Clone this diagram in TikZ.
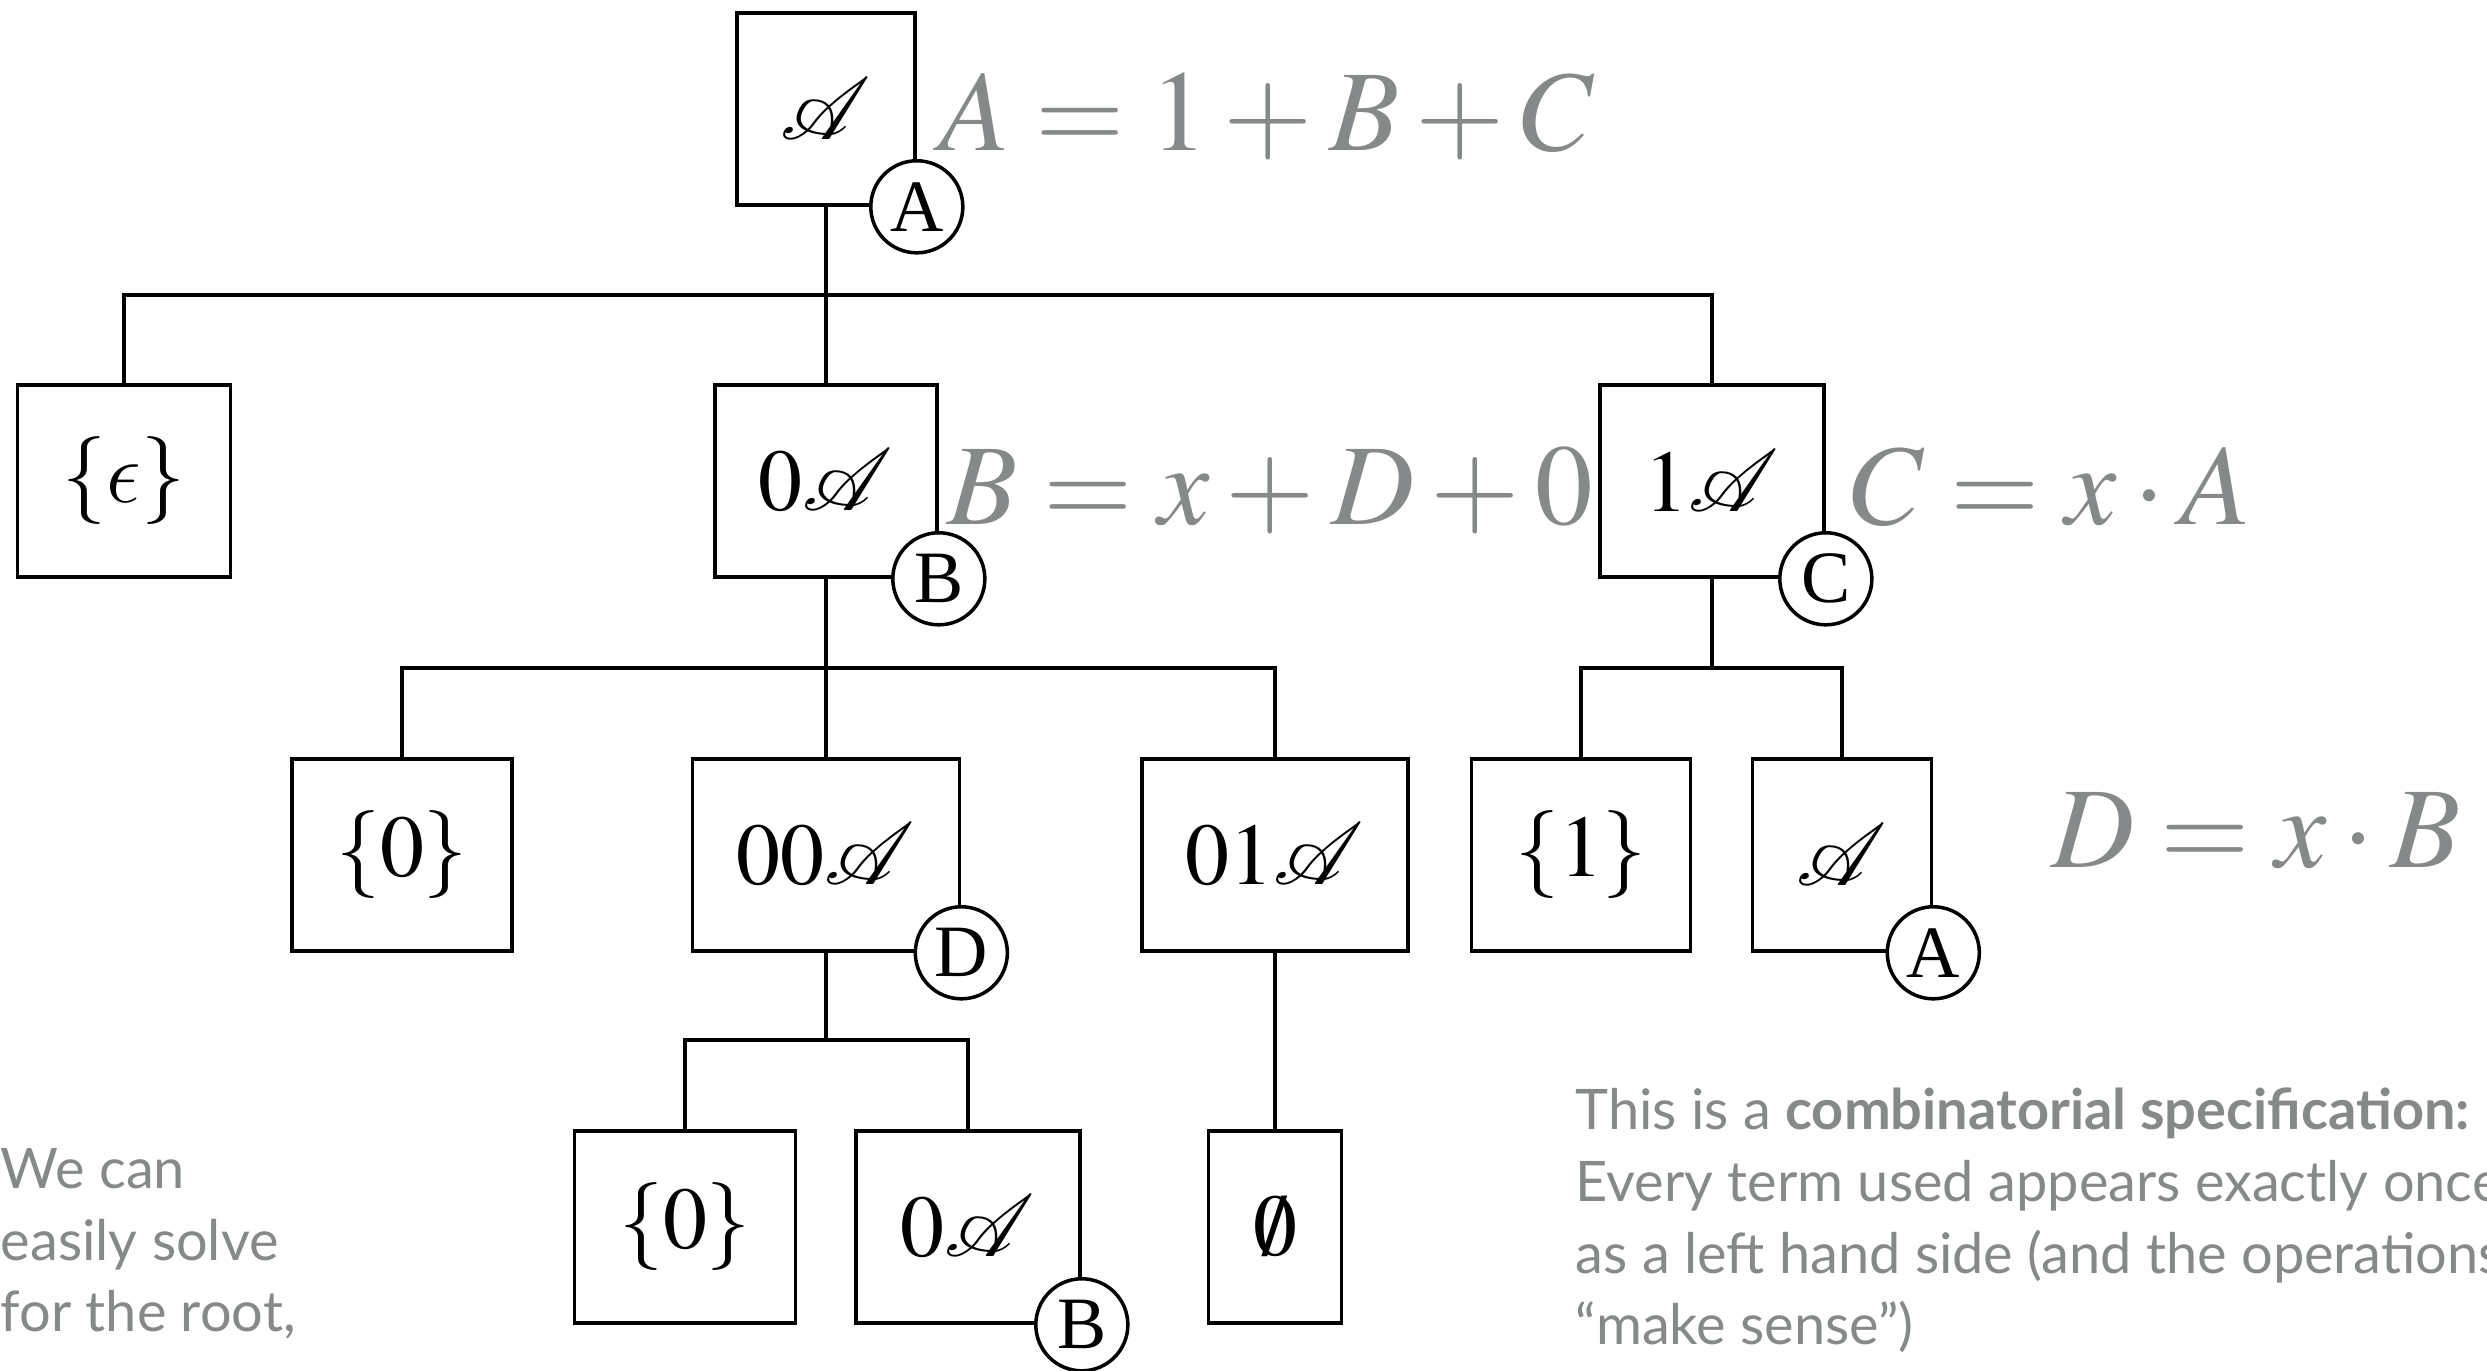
\documentclass[tikz,border=0pt]{standalone}
\usepackage{mathptmx}
\usepackage{mathrsfs}
\usepackage{fontspec}
\setmainfont{Liberation Serif}
\newfontfamily\notefont{Lato}
\DeclareSymbolFont{cmletters}{OML}{cmm}{m}{it}
\DeclareMathSymbol{\cmepsilon}{\mathord}{cmletters}{"0F}
\definecolor{eqgray}{RGB}{133,137,137}
\tikzset{
  bx/.style={draw, line width=1pt, inner sep=0pt, minimum height=1.92cm, fill=white,
             font=\fontsize{25}{30}\selectfont},
  circ/.style={circle, draw, fill=white, line width=1pt, minimum size=0.92cm, inner sep=0pt,
               font=\fontsize{21}{25}\selectfont},
  wire/.style={line width=0.9pt},
  eq/.style={text=eqgray, inner sep=0pt, anchor=base west, font=\fontsize{32.7}{38}\selectfont},
  note/.style={text=eqgray, inner sep=0pt, anchor=base west, align=left,
               font=\notefont\fontsize{15.9}{20.4}\selectfont}
}
\begin{document}
\begin{tikzpicture}[x=0.01cm, y=-0.01cm]
\useasboundingbox (0,0) rectangle (2487,1371);
% boxes
\node[bx, minimum width=1.78cm] (root) at (826,109) {$\mathscr{A}$};
\node[bx, minimum width=2.13cm] (eps) at (124,481) {$\{\cmepsilon\}$};
\node[bx, minimum width=2.22cm] (b) at (826,481) {$0\mathscr{A}$};
\node[bx, minimum width=2.24cm] (c) at (1712,481) {$1\mathscr{A}$};
\node[bx, minimum width=2.20cm] (z2) at (402,855) {$\{0\}$};
\node[bx, minimum width=2.67cm] (d) at (826,855) {$00\mathscr{A}$};
\node[bx, minimum width=2.66cm] (o1) at (1275,855) {$01\mathscr{A}$};
\node[bx, minimum width=2.19cm] (one2) at (1581,855) {$\{1\}$};
\node[bx, minimum width=1.79cm] (a2) at (1842,855) {$\mathscr{A}$};
\node[bx, minimum width=2.21cm] (z3) at (685,1227) {$\{0\}$};
\node[bx, minimum width=2.24cm] (b3) at (968,1227) {$0\mathscr{A}$};
\node[bx, minimum width=1.33cm] (emp) at (1275,1227) {$\emptyset$};
% junctions
\coordinate (j1) at (826,295);
\coordinate (j2) at (826,668);
\coordinate (j3) at (1712,668);
\coordinate (j4) at (826,1040);
% connectors
\draw[wire] (root.south) -- (j1);
\draw[wire] (eps.north) |- (j1) -| (c.north);
\draw[wire] (j1) -- (b.north);
\draw[wire] (b.south) -- (j2);
\draw[wire] (z2.north) |- (j2) -| (o1.north);
\draw[wire] (j2) -- (d.north);
\draw[wire] (c.south) -- (j3);
\draw[wire] (one2.north) |- (j3) -| (a2.north);
\draw[wire] (d.south) -- (j4);
\draw[wire] (z3.north) |- (j4) -| (b3.north);
\draw[wire] (o1.south) -- (emp.north);
% circles
\node[circ] (ca) at (root.south east) {A};
\node[circ] (cb) at (b.south east) {B};
\node[circ] (cc) at (c.south east) {C};
\node[circ] (cd) at (d.south east) {D};
\node[circ] (ca2) at (a2.south east) {A};
\node[circ] (cb3) at (b3.south east) {B};
% equations
\node[eq] (eqa) at (939,151) {$A = 1 + B + C$};
\node[eq] (eqb) at (947,525) {$B = x + D + 0$};
\node[eq] (eqc) at (1851,525) {$C = x \cdot A$};
\node[eq] (eqd) at (2051,868) {$D = x \cdot B$};
% notes (anchor at baseline of last line)
\node[note] (t1) at (0,1332) {We can\\easily solve\\for the root,};
\node[note] (t2) at (1575,1345) {This is a \textbf{combinatorial specification:}\\Every term used appears exactly once\\as a left hand side (and the operations\\\char"201C make sense\char"201D)};
\end{tikzpicture}
\end{document}
